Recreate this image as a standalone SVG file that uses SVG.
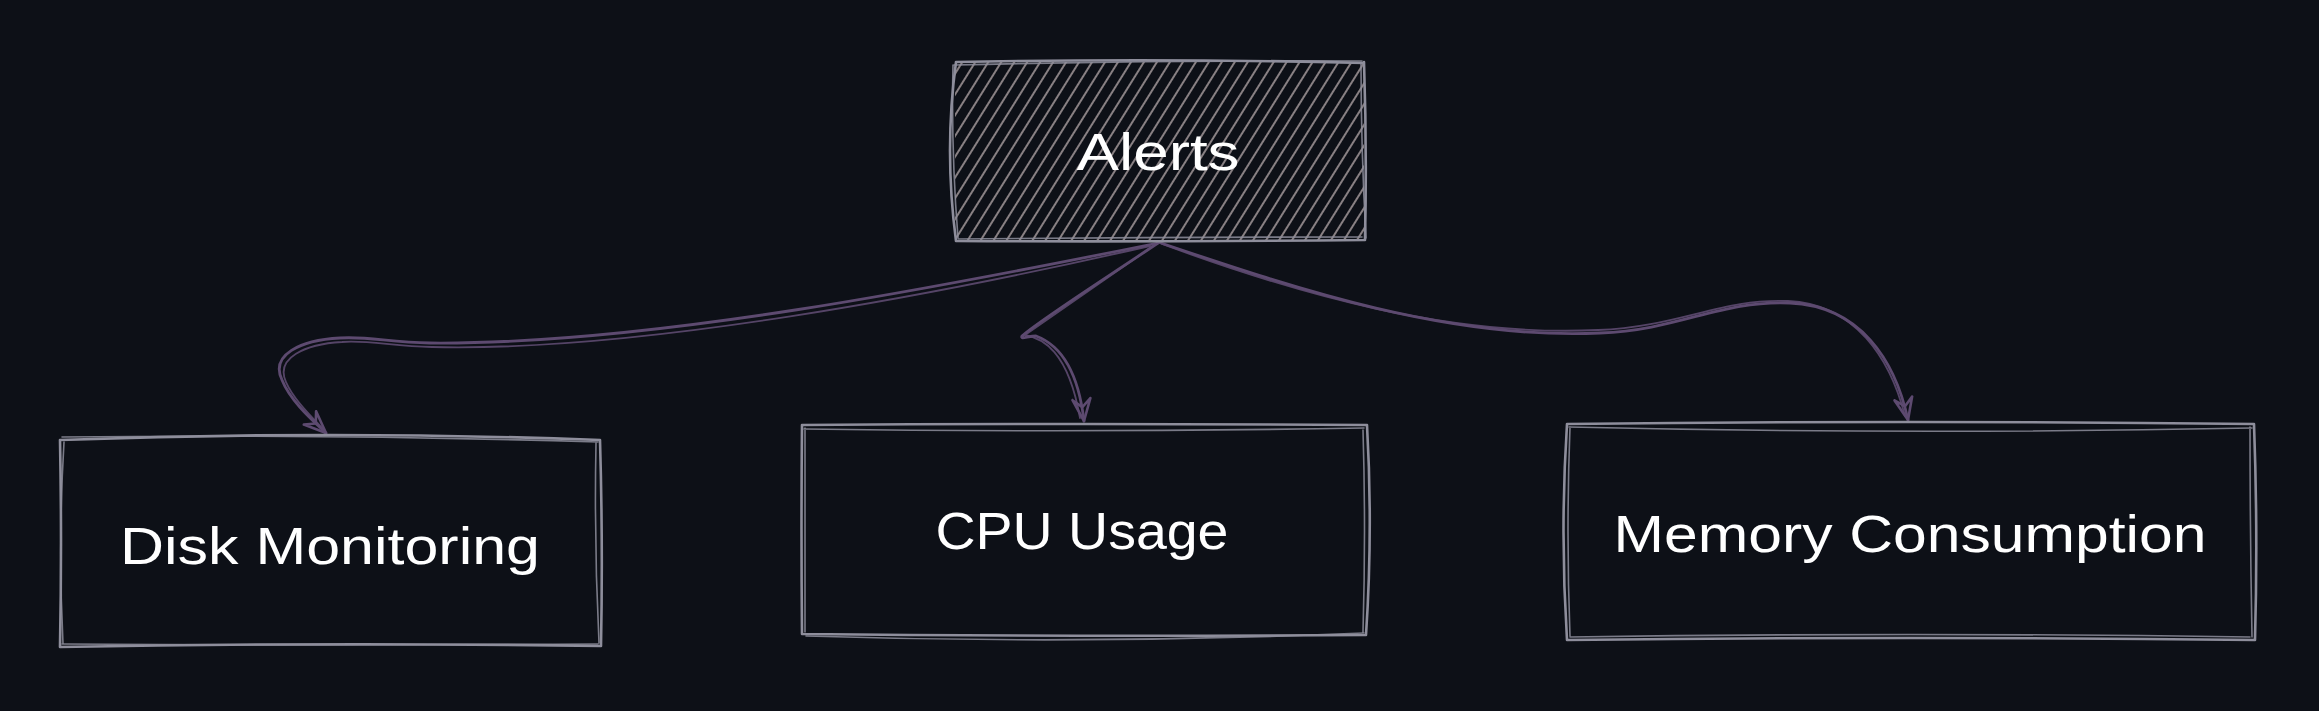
<svg xmlns="http://www.w3.org/2000/svg" width="2319" height="711" viewBox="0 0 2319 711">
<defs>
<style>
.box{fill:none;stroke:#8e8e9c;stroke-width:2.6;stroke-linecap:round;stroke-linejoin:round}
.box2{fill:none;stroke:#8e8e9c;stroke-width:1.6;stroke-linecap:round;opacity:0.85}
.arr{fill:none;stroke:#5d4a70;stroke-width:2.8;stroke-linecap:round;stroke-linejoin:round}
.arr2{fill:none;stroke:#5d4a70;stroke-width:1.8;stroke-linecap:round;opacity:0.9}
.lbl{font-family:"Liberation Sans","Noto Sans",sans-serif;font-size:52px;fill:#ffffff;text-anchor:middle}
</style>
<pattern id="hatch" patternUnits="userSpaceOnUse" width="11" height="11" patternTransform="rotate(32)">
<line x1="2" y1="0" x2="2" y2="11" stroke="#b2a5a7" stroke-width="1.5"/>
</pattern>
<marker id="ah" markerUnits="userSpaceOnUse" markerWidth="40" markerHeight="40" refX="0" refY="0" orient="auto" overflow="visible">
<path d="M-22,-9 L0,0 L-22,9 M-22,-9 L-14,0 L-22,9" fill="none" stroke="#5d4a70" stroke-width="2.6" stroke-linejoin="round" stroke-linecap="round"/>
</marker>
</defs>
<rect x="0" y="0" width="2319" height="711" fill="#0d1017"/>

<g id="connectors">
<path class="arr" marker-end="url(#ah)" d="M1158,243 C950,285 650,345 430,343 C390,343 370,336 340,338 C300,340 270,355 282,380 C290,400 310,418 326,433"/>
<path class="arr2" d="M1150,246 C940,294 640,352 432,347 C392,346 368,340 342,342 C305,344 275,358 286,382 C294,400 312,417 324,430"/>
<path class="arr" marker-end="url(#ah)" d="M1158,243 C1100,282 1040,320 1022,336 C1020,340 1028,336 1036,336 C1060,345 1078,370 1084,421"/>
<path class="arr2" d="M1156,244 C1098,284 1044,322 1025,335 C1042,338 1068,350 1080,418"/>
<path class="arr" marker-end="url(#ah)" d="M1158,242 C1300,290 1450,340 1600,333 C1680,330 1720,300 1790,303 C1860,306 1895,360 1908,420"/>
<path class="arr2" d="M1162,244 C1300,295 1450,337 1598,330 C1678,327 1722,298 1788,301 C1855,304 1890,358 1905,416"/>
</g>

<g id="node-alerts">
<rect x="955" y="62" width="409" height="178" fill="url(#hatch)"/>
<path class="box" d="M956,62 Q1160,58 1364,63 M1364,62 Q1367,150 1365,240 M1365,240 Q1160,242 956,241 M956,241 Q944,150 956,62"/>
<path class="box2" d="M954,65 Q1160,60 1362,61 M1361,64 Q1361,150 1366,238 M1362,237 Q1160,237 958,239 M958,238 Q951,150 953,65"/>
<text class="lbl" x="1158" y="170" textLength="163" lengthAdjust="spacingAndGlyphs">Alerts</text>
</g>

<g id="node-disk">
<path class="box" d="M60,440 Q330,430 600,440 M600,440 Q603,543 601,646 M601,646 Q330,642 60,647 M60,647 Q62,543 60,440"/>
<path class="box2" d="M62,437 Q330,434 598,442 M596,443 Q594,543 599,643 M598,644 Q330,646 62,644 M63,644 Q58,543 64,442"/>
<text class="lbl" x="330" y="564" textLength="420" lengthAdjust="spacingAndGlyphs">Disk Monitoring</text>
</g>

<g id="node-cpu">
<path class="box" d="M802,425 Q1084,423 1367,425 M1367,425 Q1373,530 1366,635 M1366,635 Q1084,637 802,634 M802,634 Q801,530 802,425"/>
<path class="box2" d="M804,429 Q1084,433 1364,428 M1363,430 Q1366,530 1363,632 M1364,633 Q1084,645 806,636 M805,632 Q805,530 805,428"/>
<text class="lbl" x="1082" y="549" textLength="293" lengthAdjust="spacingAndGlyphs">CPU Usage</text>
</g>

<g id="node-memory">
<path class="box" d="M1567,424 Q1910,420 2254,424 M2254,424 Q2258,532 2255,640 M2255,640 Q1910,636 1567,640 M1567,640 Q1560,532 1567,424"/>
<path class="box2" d="M1569,427 Q1910,435 2252,428 M2250,427 Q2250,532 2252,637 M2250,637 Q1910,632 1570,637 M1570,636 Q1566,532 1570,427"/>
<text class="lbl" x="1910" y="552" textLength="593" lengthAdjust="spacingAndGlyphs">Memory Consumption</text>
</g>
</svg>
